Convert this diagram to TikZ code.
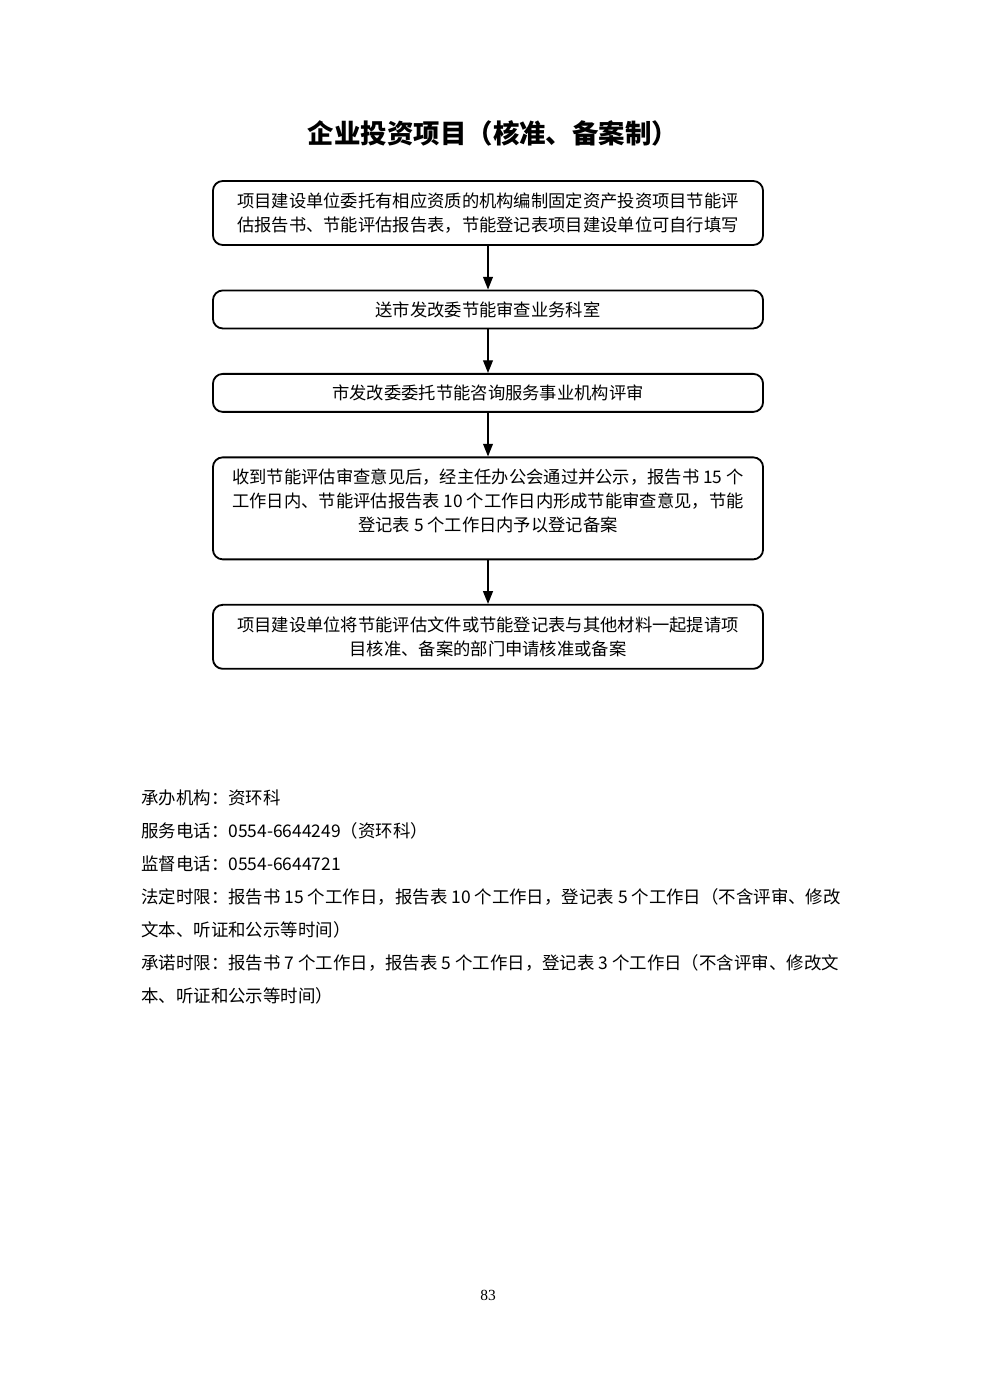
\documentclass[tikz,border=0pt]{standalone}
\usepackage{fontspec}
\setmainfont{Noto Sans CJK SC}
\newfontfamily\numfont{Liberation Serif}
\usetikzlibrary{arrows.meta, positioning}

\begin{document}
\begin{tikzpicture}[
  x=0.025cm, y=-0.025cm,
  node distance=1.09cm,
  every node/.style={inner sep=0pt},
  flowbox/.style={rectangle, rounded corners=7pt, draw=black, line width=1.3pt, minimum width=13.75cm, align=center, font=\fontsize{12.3}{17}\selectfont},
  boxtext/.style={align=center, font=\fontsize{12.3}{17}\selectfont},
  titlenode/.style={font=\fontsize{18.8}{22}\selectfont\bfseries},
  notenode/.style={align=left, font=\fontsize{12.4}{23.4}\selectfont},
  arr/.style={-{Triangle[length=9pt,width=7pt]}, line width=0.9pt},
]
\useasboundingbox (0,0) rectangle (980,1385);

%% Title
\node[titlenode] (title) at (493,133) {企业投资项目（核准、备案制）};

%% Flow boxes
\node[flowbox, minimum height=1.6cm] (prepare) at (488,213)
  {项目建设单位委托有相应资质的机构编制固定资产投资项目节能评\\估报告书、节能评估报告表，节能登记表项目建设单位可自行填写};
\node[flowbox, minimum height=0.95cm, below=of prepare] (submit) {送市发改委节能审查业务科室};
\node[flowbox, minimum height=0.95cm, below=of submit] (assess) {市发改委委托节能咨询服务事业机构评审};
\node[flowbox, minimum height=2.55cm, below=of assess] (review) {};
\node[boxtext] (reviewtext) at ([yshift=0.18cm]review.center)
  {收到节能评估审查意见后，经主任办公会通过并公示，报告书 15 个\\工作日内、节能评估报告表 10 个工作日内形成节能审查意见，节能\\登记表 5 个工作日内予以登记备案};
\node[flowbox, minimum height=1.6cm, below=of review] (apply)
  {项目建设单位将节能评估文件或节能登记表与其他材料一起提请项\\目核准、备案的部门申请核准或备案};

%% Arrows
\draw[arr] (prepare) -- (submit);
\draw[arr] (submit)  -- (assess);
\draw[arr] (assess)  -- (review);
\draw[arr] (review)  -- (apply);

%% Notes
\node[notenode, anchor=north west] (notes) at (141,790)
  {承办机构：资环科\\
   服务电话：0554-6644249（资环科）\\
   监督电话：0554-6644721\\
   法定时限：报告书 15 个工作日，报告表 10 个工作日，登记表 5 个工作日（不含评审、修改\\
   文本、听证和公示等时间）\\
   承诺时限：报告书 7 个工作日，报告表 5 个工作日，登记表 3 个工作日（不含评审、修改文\\
   本、听证和公示等时间）};

%% Page number
\node[font=\numfont\fontsize{11}{13}\selectfont] (pagenum) at (488,1295) {83};

\end{tikzpicture}
\end{document}
